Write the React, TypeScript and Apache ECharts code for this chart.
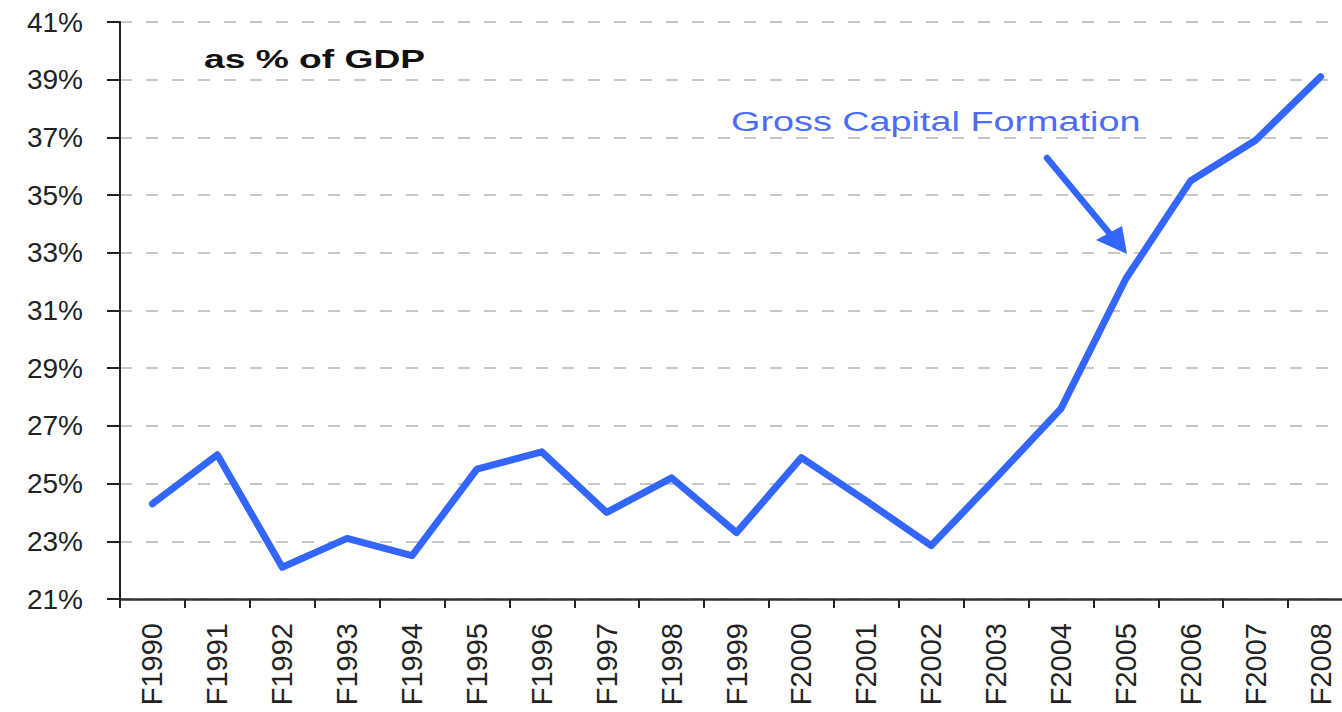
import React, { useEffect, useRef } from "react";
import * as echarts from "echarts";

const categories = [
  "F1990", "F1991", "F1992", "F1993", "F1994", "F1995", "F1996", "F1997", "F1998", "F1999",
  "F2000", "F2001", "F2002", "F2003", "F2004", "F2005", "F2006", "F2007", "F2008",
];
const grossCapitalFormation = [
  24.3, 26.0, 22.1, 23.1, 22.5, 25.5, 26.1, 24.0, 25.2, 23.3,
  25.9, 24.4, 22.85, 25.2, 27.6, 32.1, 35.5, 36.9, 39.1,
];
const axisBase = 21; // lowest tick label (21%)
const axisTop = 41; // highest tick label (41%)
const axisStep = 2;

const seriesName = "Gross Capital Formation";
const subtitle = "as % of GDP";

export default function App() {
  const ref = useRef<HTMLDivElement>(null);
  useEffect(() => {
    if (!ref.current) return;
    const chart = echarts.init(ref.current, null, { renderer: "svg" });
    const font = "Arial, 'Liberation Sans', sans-serif";
    chart.setOption({
      animation: false,
      backgroundColor: "#ffffff",
      grid: { left: 120, top: 22, width: 1233, height: 577, containLabel: false },
      xAxis: {
        type: "category",
        data: categories,
        boundaryGap: true,
        axisLine: { show: true, lineStyle: { color: "#333333", width: 2.5 } },
        axisTick: { show: true, interval: 0, length: 9, lineStyle: { color: "#222222", width: 2 } },
        axisLabel: {
          interval: 0,
          rotate: 90,
          margin: 24,
          fontSize: 29,
          fontFamily: font,
          color: "#222222",
        },
        splitLine: { show: false },
      },
      yAxis: {
        type: "value",
        min: 0,
        max: axisTop - axisBase,
        interval: axisStep,
        axisLine: { show: true, lineStyle: { color: "#222222", width: 2 } },
        axisTick: { show: true, length: 13, lineStyle: { color: "#222222", width: 2 } },
        axisLabel: {
          margin: 37,
          fontSize: 28,
          fontFamily: font,
          color: "#222222",
          formatter: (v: number) => `${Math.round(v + axisBase)}%`,
        },
        splitLine: {
          show: true,
          lineStyle: { color: "#c8c8c8", width: 2, type: [12, 14] },
        },
      },
      series: [
        {
          name: seriesName,
          type: "line",
          data: grossCapitalFormation.map((v) => v - axisBase),
          symbol: "none",
          lineStyle: { color: "#3366ff", width: 7, cap: "round", join: "round" },
          z: 3,
        },
      ],
      graphic: [
        {
          type: "text",
          x: 204,
          y: 59,
          scaleX: 1.43,
          style: {
            text: subtitle,
            x: 0,
            y: 0,
            fill: "#111111",
            font: `bold 26px ${font}`,
            textAlign: "left",
            textVerticalAlign: "middle",
          },
        },
        {
          type: "text",
          x: 731,
          y: 121,
          scaleX: 1.35,
          style: {
            text: seriesName,
            x: 0,
            y: 0,
            fill: "#4a6cff",
            font: `28px ${font}`,
            textAlign: "left",
            textVerticalAlign: "middle",
          },
        },
        {
          type: "line",
          shape: { x1: 1047, y1: 158, x2: 1110, y2: 234 },
          style: { stroke: "#3366ff", lineWidth: 6.5, lineCap: "round" },
          z: 10,
        },
        {
          type: "polygon",
          shape: {
            points: [
              [1127, 254],
              [1096, 240],
              [1122, 226],
            ],
          },
          style: { fill: "#3366ff" },
          z: 10,
        },
      ],
    });
    return () => chart.dispose();
  }, []);
  return (
    <div
      ref={ref}
      style={{ position: "fixed", left: 0, top: 0, width: 1360, height: 712, background: "#fff" }}
    />
  );
}
